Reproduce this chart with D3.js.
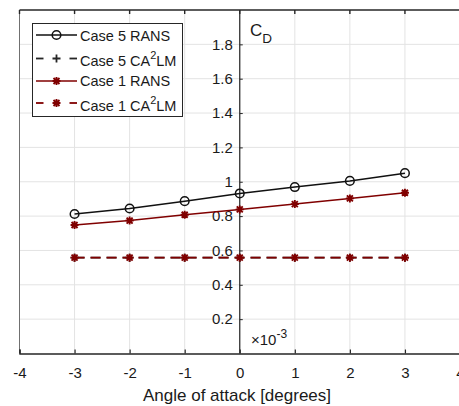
<!DOCTYPE html>
<html>
<head>
<meta charset="utf-8">
<script src="https://cdn.jsdelivr.net/npm/d3@7"></script>
<style>
  html, body { margin: 0; padding: 0; background: #fff; }
  svg { display: block; font-family: "Liberation Sans", Arial, sans-serif; }
</style>
</head>
<body>
<svg id="chart" width="459" height="406"></svg>
<script>
// Angle of attack (degrees) and drag coefficient (x 1e-3)
const alpha = [-3, -2, -1, 0, 1, 2, 3];
const case5Rans = [0.812, 0.844, 0.887, 0.932, 0.969, 1.005, 1.050];
const case5Ca2lm = [0.558, 0.558, 0.558, 0.558, 0.558, 0.558, 0.558];
const case1Rans = [0.748, 0.774, 0.808, 0.839, 0.870, 0.903, 0.936];
const case1Ca2lm = [0.558, 0.558, 0.558, 0.558, 0.558, 0.558, 0.558];
const xTicks = [-4, -3, -2, -1, 0, 1, 2, 3, 4];
const yTicks = [0.2, 0.4, 0.6, 0.8, 1, 1.2, 1.4, 1.6, 1.8];
const seriesNames = ["Case 5 RANS", "Case 5 CA²LM", "Case 1 RANS", "Case 1 CA²LM"];

const svg = d3.select("#chart");
const plotLeft = 19.5, plotRight = 460, plotTop = 10, plotBottom = 353.5;
const x = d3.scaleLinear().domain([-4, 4]).range([plotLeft, plotRight]);
const y = d3.scaleLinear().domain([0, 2]).range([plotBottom, plotTop]);

const axisColor = "#262626";
const textColor = "#1a1a1a";
const red = "#800000";
const fontFamily = "Liberation Sans, Arial, sans-serif";

// grid
const grid = svg.append("g").attr("stroke", "#e3e3e3").attr("stroke-width", 1);
grid.selectAll("line.gx").data(xTicks.filter(t => t > -4 && t < 4)).join("line")
  .attr("x1", d => x(d)).attr("x2", d => x(d)).attr("y1", plotTop).attr("y2", plotBottom);
grid.selectAll("line.gy").data(yTicks).join("line")
  .attr("x1", plotLeft).attr("x2", plotRight).attr("y1", d => y(d)).attr("y2", d => y(d));

// box edges: top, left
svg.append("line").attr("x1", plotLeft).attr("x2", plotRight).attr("y1", plotTop).attr("y2", plotTop)
  .attr("stroke", axisColor).attr("stroke-width", 1.6);
svg.append("line").attr("x1", plotLeft).attr("x2", plotLeft).attr("y1", plotTop).attr("y2", plotBottom)
  .attr("stroke", "#707070").attr("stroke-width", 1);
// top ticks
svg.append("g").selectAll("line").data(xTicks).join("line")
  .attr("x1", d => x(d)).attr("x2", d => x(d)).attr("y1", plotTop).attr("y2", plotTop + 4)
  .attr("stroke", axisColor).attr("stroke-width", 1.4);

// x axis at bottom
const xAxis = d3.axisBottom(x).tickValues(xTicks).tickSize(-4).tickPadding(13.5)
  .tickFormat(d => d < 0 ? "-" + Math.abs(d) : String(d));
const gx = svg.append("g").attr("transform", `translate(0,${plotBottom})`).call(xAxis);
gx.select(".domain").attr("stroke", axisColor).attr("stroke-width", 1.4);
gx.selectAll(".tick line").attr("stroke", axisColor).attr("stroke-width", 1.2);
gx.selectAll(".tick text").attr("fill", textColor).attr("font-size", 15)
  .attr("font-family", fontFamily);

// y axis through the origin
const yAxis = d3.axisLeft(y).tickValues(yTicks).tickSize(-3).tickPadding(7)
  .tickFormat(d => d3.format("")(+d.toFixed(1)));
const gy = svg.append("g").attr("transform", `translate(${x(0)},0)`).call(yAxis);
gy.select(".domain").attr("stroke", axisColor).attr("stroke-width", 1.2)
  .attr("d", `M0,${plotTop}V${plotBottom}`);
gy.selectAll(".tick line").attr("stroke", axisColor);
gy.selectAll(".tick text").attr("fill", textColor).attr("font-size", 15)
  .attr("font-family", fontFamily);

// axis labels
svg.append("text").attr("x", 237).attr("y", 401).attr("text-anchor", "middle")
  .attr("font-size", 17).attr("fill", textColor).text("Angle of attack [degrees]");
const cd = svg.append("text").attr("x", 250).attr("y", 35.5)
  .attr("font-size", 17).attr("fill", textColor);
cd.append("tspan").text("C");
cd.append("tspan").attr("dy", 7).attr("font-size", 13.5).text("D");
const ex = svg.append("text").attr("x", 251).attr("y", 344.5)
  .attr("font-size", 15).attr("fill", textColor);
ex.append("tspan").text("\u00d710");
ex.append("tspan").attr("dy", -7).attr("font-size", 12).text("-3");

// series
const series = [
  { vals: case5Ca2lm, color: axisColor, dash: "10,6", marker: "plus" },
  { vals: case1Ca2lm, color: red, dash: "10,6", marker: "star" },
  { vals: case5Rans, color: "#111", dash: null, marker: "circle" },
  { vals: case1Rans, color: red, dash: null, marker: "star" }
];
const line = d3.line().x(d => x(d[0])).y(d => y(d[1]));

function drawMarker(g, kind, color) {
  if (kind === "circle") {
    g.append("circle").attr("r", 4.3).attr("fill", "none").attr("stroke", color).attr("stroke-width", 1.5);
  } else if (kind === "plus") {
    g.append("path").attr("d", "M-4,0H4M0,-4V4").attr("stroke", color).attr("stroke-width", 1.8);
  } else {
    g.append("path").attr("d", "M-4,0H4M0,-4V4M-3,-3L3,3M-3,3L3,-3")
      .attr("stroke", color).attr("stroke-width", 1.9);
  }
}

series.forEach(s => {
  const pts = alpha.map((a, i) => [a, s.vals[i]]);
  svg.append("path").datum(pts).attr("d", line).attr("fill", "none")
    .attr("stroke", s.color).attr("stroke-width", s.dash ? 1.8 : 1.5)
    .attr("stroke-dasharray", s.dash);
  svg.append("g").selectAll("g").data(pts).join("g")
    .attr("transform", d => `translate(${x(d[0])},${y(d[1])})`)
    .each(function () { drawMarker(d3.select(this), s.marker, s.color); });
});

// legend
const lg = svg.append("g");
lg.append("rect").attr("x", 32.5).attr("y", 23.5).attr("width", 150).attr("height", 93)
  .attr("fill", "#fff").attr("stroke", axisColor).attr("stroke-width", 1);
const legendItems = [
  { name: seriesNames[0], color: "#111", dashed: false, marker: "circle", yy: 35, ty: 40.5 },
  { name: seriesNames[1], color: axisColor, dashed: true, marker: "plus", yy: 58.5, ty: 65.5 },
  { name: seriesNames[2], color: red, dashed: false, marker: "star", yy: 81, ty: 86 },
  { name: seriesNames[3], color: red, dashed: true, marker: "star", yy: 103, ty: 110.5 }
];
legendItems.forEach(it => {
  const segs = it.dashed ? [[36, 43.5], [69.5, 77]] : [[36, 77]];
  segs.forEach(sg => {
    lg.append("line").attr("x1", sg[0]).attr("x2", sg[1]).attr("y1", it.yy).attr("y2", it.yy)
      .attr("stroke", it.color).attr("stroke-width", it.dashed ? 1.8 : 1.5);
  });
  const m = lg.append("g").attr("transform", `translate(56.5,${it.yy})`);
  drawMarker(m, it.marker, it.color);
  const t = lg.append("text").attr("x", 80).attr("y", it.ty)
    .attr("font-size", 14.5).attr("fill", textColor);
  const parts = it.name.split("²");
  t.append("tspan").text(parts[0]);
  if (parts.length > 1) {
    t.append("tspan").attr("dy", -7).attr("font-size", 11).text("2");
    t.append("tspan").attr("dy", 7).text(parts[1]);
  }
});
</script>
</body>
</html>
